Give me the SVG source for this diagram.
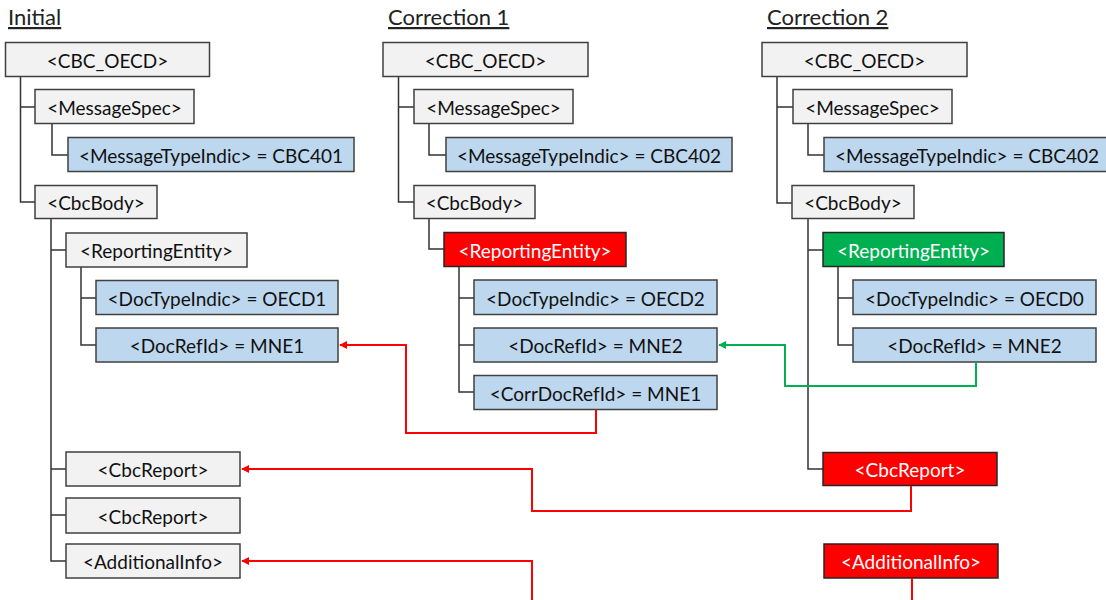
<svg xmlns="http://www.w3.org/2000/svg" width="1106" height="600" viewBox="0 0 1106 600">
<style>
.t{font-family:Lato,"Open Sans","Liberation Sans",sans-serif;font-size:19px;fill:#111;text-anchor:middle;dominant-baseline:central}
.w{fill:#fff}
.h{font-family:Lato,"Open Sans","Liberation Sans",sans-serif;font-size:22px;fill:#222;text-decoration:underline}
.g{fill:#f2f2f2;stroke:#404040;stroke-width:1.5}
.b{fill:#bdd7ee;stroke:#404040;stroke-width:1.5}
.r{fill:#ff0000;stroke:#262626;stroke-width:1.5}
.gr{fill:#00b050;stroke:#262626;stroke-width:1.5}
.tree{fill:none;stroke:#333;stroke-width:1.5}
.ar{fill:none;stroke:#ff0000;stroke-width:2;marker-end:url(#mr)}
.ag{fill:none;stroke:#00b050;stroke-width:2;marker-end:url(#mg)}
</style>
<defs>
<marker id="mr" viewBox="0 0 10 10" refX="9" refY="5" markerWidth="4" markerHeight="4" orient="auto" markerUnits="strokeWidth"><path d="M0 0L10 5L0 10z" fill="#ff0000"/></marker>
<marker id="mg" viewBox="0 0 10 10" refX="9" refY="5" markerWidth="4" markerHeight="4" orient="auto" markerUnits="strokeWidth"><path d="M0 0L10 5L0 10z" fill="#00b050"/></marker>
</defs>
<rect width="1106" height="600" fill="#fff"/>
<text class="h" x="8" y="25">Initial</text>
<text class="h" x="388" y="25">Correction 1</text>
<text class="h" x="767" y="25">Correction 2</text>
<g id="tree-lines">
<path class="tree" d="M20.5 77V202H35M20.5 107H35M52 124V155H68M51 219V561H66M51 250H66M51 469H66M51 515H66M81 267V345H96M81 298H96"/>
<path class="tree" d="M398.5 77V202H414M398.5 107H414M429 124V155H446M429 219V249H444M459 267V392H474M459 298H474M459 345H474"/>
<path class="tree" d="M777 77V203H792M777 107H793M808 124V155H824M808 219V469H823M808 250H823M838 267V345H853M838 298H853"/>
</g>
<g id="i-cbc"><rect class="g" x="5.5" y="42.5" width="204" height="34"/><text class="t" x="107.5" y="60">&lt;CBC_OECD&gt;</text></g>
<g id="i-msgspec"><rect class="g" x="35" y="89.5" width="159" height="34"/><text class="t" x="114.5" y="107">&lt;MessageSpec&gt;</text></g>
<g id="i-msgtype"><rect class="b" x="68" y="137.5" width="286" height="34"/><text class="t" x="211" y="155">&lt;MessageTypeIndic&gt; = CBC401</text></g>
<g id="i-body"><rect class="g" x="35" y="185.5" width="122" height="33"/><text class="t" x="96" y="202.5">&lt;CbcBody&gt;</text></g>
<g id="i-re"><rect class="g" x="66" y="233" width="181" height="34"/><text class="t" x="156.5" y="250.5">&lt;ReportingEntity&gt;</text></g>
<g id="i-doctype"><rect class="b" x="96" y="280.5" width="242" height="34"/><text class="t" x="217" y="298">&lt;DocTypeIndic&gt; = OECD1</text></g>
<g id="i-docref"><rect class="b" x="96" y="328" width="242" height="34"/><text class="t" x="217" y="345.5">&lt;DocRefId&gt; = MNE1</text></g>
<g id="i-rep1"><rect class="g" x="66" y="452" width="174" height="34"/><text class="t" x="153" y="469.5">&lt;CbcReport&gt;</text></g>
<g id="i-rep2"><rect class="g" x="66" y="498" width="174" height="35"/><text class="t" x="153" y="516">&lt;CbcReport&gt;</text></g>
<g id="i-add"><rect class="g" x="66" y="544" width="174" height="34"/><text class="t" x="153" y="561.5">&lt;AdditionalInfo&gt;</text></g>

<g id="c1-cbc"><rect class="g" x="383" y="42.5" width="205" height="34"/><text class="t" x="485.5" y="60">&lt;CBC_OECD&gt;</text></g>
<g id="c1-msgspec"><rect class="g" x="414" y="89.5" width="159" height="34"/><text class="t" x="493.5" y="107">&lt;MessageSpec&gt;</text></g>
<g id="c1-msgtype"><rect class="b" x="446" y="137.5" width="286" height="34"/><text class="t" x="589" y="155">&lt;MessageTypeIndic&gt; = CBC402</text></g>
<g id="c1-body"><rect class="g" x="414" y="185.5" width="121" height="33"/><text class="t" x="474.5" y="202.5">&lt;CbcBody&gt;</text></g>
<g id="c1-re"><rect class="r" x="444" y="232.5" width="182" height="34"/><text class="t w" x="535" y="250">&lt;ReportingEntity&gt;</text></g>
<g id="c1-doctype"><rect class="b" x="474" y="280" width="243" height="34.5"/><text class="t" x="595.5" y="298">&lt;DocTypeIndic&gt; = OECD2</text></g>
<g id="c1-docref"><rect class="b" x="474" y="328" width="243" height="34"/><text class="t" x="595.5" y="345.5">&lt;DocRefId&gt; = MNE2</text></g>
<g id="c1-corr"><rect class="b" x="474" y="375.5" width="243" height="34"/><text class="t" x="595.5" y="393">&lt;CorrDocRefId&gt; = MNE1</text></g>

<g id="c2-cbc"><rect class="g" x="762" y="42.5" width="205" height="34"/><text class="t" x="864.5" y="60">&lt;CBC_OECD&gt;</text></g>
<g id="c2-msgspec"><rect class="g" x="793" y="89.5" width="159" height="34"/><text class="t" x="872.5" y="107">&lt;MessageSpec&gt;</text></g>
<g id="c2-msgtype"><rect class="b" x="824" y="137.5" width="286" height="34"/><text class="t" x="967" y="155">&lt;MessageTypeIndic&gt; = CBC402</text></g>
<g id="c2-body"><rect class="g" x="792" y="185.5" width="122" height="33"/><text class="t" x="853" y="202.5">&lt;CbcBody&gt;</text></g>
<g id="c2-re"><rect class="gr" x="823" y="232.5" width="181" height="34"/><text class="t w" x="913.5" y="250">&lt;ReportingEntity&gt;</text></g>
<g id="c2-doctype"><rect class="b" x="853" y="280" width="243" height="34.5"/><text class="t" x="974.5" y="298">&lt;DocTypeIndic&gt; = OECD0</text></g>
<g id="c2-docref"><rect class="b" x="853" y="328" width="243" height="34"/><text class="t" x="974.5" y="345.5">&lt;DocRefId&gt; = MNE2</text></g>
<g id="c2-rep"><rect class="r" x="823" y="452.5" width="174" height="33"/><text class="t w" x="910" y="469.5">&lt;CbcReport&gt;</text></g>
<g id="c2-add"><rect class="r" x="824" y="544" width="174" height="34"/><text class="t w" x="911" y="561.5">&lt;AdditionalInfo&gt;</text></g>

<g id="connectors">
<path class="ar" d="M596 409.5V433H406V345H340"/>
<path class="ag" d="M976 362.5V386H785V345H719"/>
<path class="ar" d="M911 486V511H532V469H242"/>
<path class="ar" d="M912 578V615H532V561H242"/>
</g>
</svg>
